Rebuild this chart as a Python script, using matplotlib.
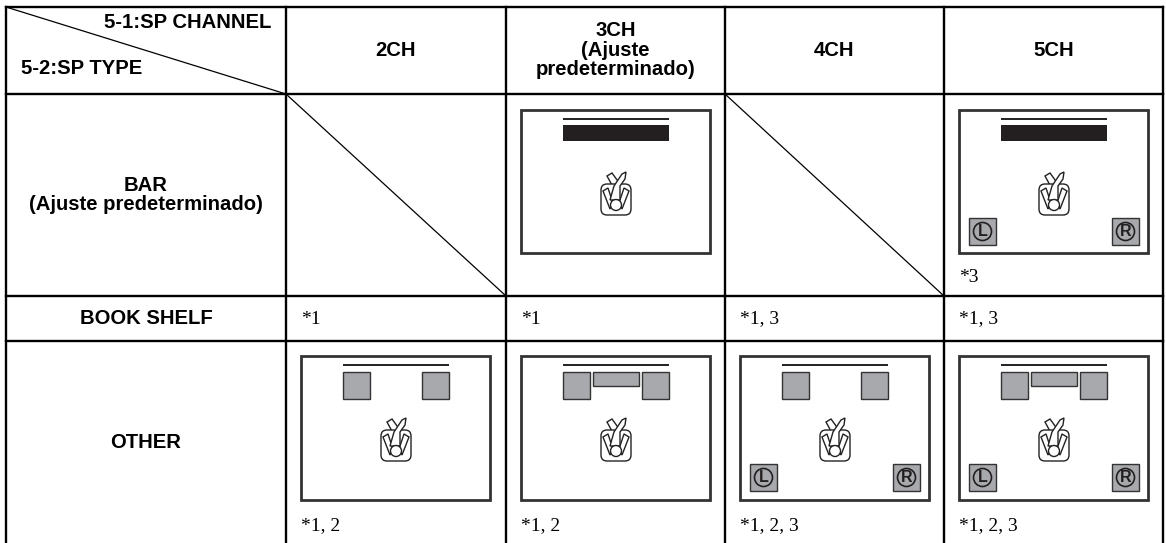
import matplotlib
matplotlib.use('Agg')
import matplotlib.pyplot as plt
from matplotlib.patches import Rectangle, Circle, FancyBboxPatch, Polygon

# table text
col_labels = ['2CH', '3CH\n(Ajuste\npredeterminado)', '4CH', '5CH']
row_labels = ['BAR\n(Ajuste predeterminado)', 'BOOK SHELF', 'OTHER']
corner_top = '5-1:SP CHANNEL'
corner_bottom = '5-2:SP TYPE'

# notes per cell, row by row
notes_bar = ['', '', '', '*3']
notes_shelf = ['*1', '*1', '*1, 3', '*1, 3']
notes_other = ['*1, 2', '*1, 2', '*1, 2, 3', '*1, 2, 3']

# which speakers each room drawing shows
bar_rooms = [None, 'bar', None, 'bar_rear']
other_rooms = ['front', 'front_center', 'front_rear', 'all']

# grid lines in pixels
col_x = [6, 286, 506, 725, 944, 1163]
row_y = [7, 94, 296, 341, 543]

LW = 1.7
DARK = '#231f20'
GREY = '#a7a9ac'

fig = plt.figure(figsize=(11.66, 5.43), dpi=100)
ax = fig.add_axes([0, 0, 1, 1])
ax.set_xlim(0, 1166)
ax.set_ylim(543, 0)
ax.axis('off')

plt.rcParams['font.family'] = ['Liberation Sans']


def speaker(x, y, w, h):
    ax.add_patch(Rectangle((x, y), w, h, fc=GREY, ec='#333333', lw=1.0))


def rear(x, y, letter):
    speaker(x, y, 27, 27)
    ax.add_patch(Circle((x + 13.5, y + 13.5), 9, fc='none', ec=DARK, lw=1.2))
    ax.text(x + 13.6, y + 13.8, letter, ha='center', va='center', fontsize=11.5,
            fontweight='bold', color=DARK)


def listener(cx, top):
    # little person in a chair, seen from above
    ec = '#222222'
    lw = 1.0
    ax.add_patch(Polygon([(cx - 9, top + 4), (cx - 4, top + 1), (cx + 4, top + 12),
                          (cx + 1, top + 20), (cx - 3, top + 15)],
                         fc='white', ec=ec, lw=lw, zorder=3))
    ax.add_patch(FancyBboxPatch((cx - 11, top + 16), 22, 23,
                                boxstyle='round,pad=4,rounding_size=6',
                                fc='white', ec=ec, lw=lw, zorder=3))
    ax.add_patch(Polygon([(cx - 13, top + 19), (cx - 8, top + 16), (cx - 3, top + 31),
                          (cx - 6, top + 37)], fc='white', ec=ec, lw=lw, zorder=4))
    ax.add_patch(Polygon([(cx + 13, top + 19), (cx + 8, top + 16), (cx + 3, top + 31),
                          (cx + 6, top + 37)], fc='white', ec=ec, lw=lw, zorder=4))
    ax.add_patch(Polygon([(cx - 6, top + 28), (cx - 2, top + 14), (cx + 6, top + 2),
                          (cx + 10, top), (cx + 9, top + 7), (cx + 4, top + 14),
                          (cx + 4, top + 28)], fc='white', ec=ec, lw=lw, zorder=5))
    ax.add_patch(Circle((cx, top + 33), 5.5, fc='white', ec=ec, lw=lw, zorder=6))


def room(left, top, bottom, kind):
    ax.add_patch(Rectangle((left, top), 189, bottom - top, fc='white', ec='#333333', lw=2.0))
    cx = left + 95
    ax.plot([cx - 53, cx + 53], [top + 9, top + 9], color=DARK, lw=1.4, solid_capstyle='butt')
    if kind.startswith('bar'):
        ax.add_patch(Rectangle((cx - 53, top + 15), 106, 16, fc=DARK, ec='none'))
    else:
        speaker(cx - 53, top + 16, 27, 27)
        speaker(cx + 26, top + 16, 27, 27)
    if kind in ('front_center', 'all'):
        speaker(cx - 23, top + 16, 46, 14)
    if kind in ('bar_rear', 'front_rear', 'all'):
        rear(left + 10, top + 108, 'L')
        rear(left + 153, top + 108, 'R')
    listener(cx, top + 62)


# grid
for x in col_x:
    ax.plot([x, x], [row_y[0], row_y[-1]], color='black', lw=LW, solid_capstyle='projecting')
for y in row_y[:-1]:
    ax.plot([col_x[0], col_x[-1]], [y, y], color='black', lw=LW, solid_capstyle='projecting')

# diagonals
ax.plot([col_x[0], col_x[1]], [row_y[0], row_y[1]], color='black', lw=0.9)
ax.plot([col_x[1], col_x[2]], [row_y[1], row_y[2]], color='black', lw=0.9)
ax.plot([col_x[3], col_x[4]], [row_y[1], row_y[2]], color='black', lw=0.9)

# header
bold = dict(fontsize=14.6, fontweight='bold', color='black', family='Liberation Sans')
ax.text(271, 22, corner_top, ha='right', va='center', **bold)
ax.text(21, 69, corner_bottom, ha='left', va='center', **bold)
for i, lab in enumerate(col_labels):
    ax.text((col_x[i + 1] + col_x[i + 2]) / 2, 50, lab, ha='center', va='center',
            linespacing=1.05, **bold)
for j, lab in enumerate(row_labels):
    ax.text((col_x[0] + col_x[1]) / 2, (row_y[j + 1] + row_y[j + 2]) / 2, lab,
            ha='center', va='center', linespacing=1.05, **bold)

# rooms
for i, kind in enumerate(bar_rooms):
    if kind:
        room(col_x[i + 1] + 15, 110, 253, kind)
for i, kind in enumerate(other_rooms):
    room(col_x[i + 1] + 15, 356, 500, kind)

# footnotes
serif = dict(fontsize=14, color='black', family='Liberation Serif', ha='left', va='center')
for i in range(4):
    x = col_x[i + 1] + 15
    if notes_bar[i]:
        ax.text(x, 278, notes_bar[i], **serif)
    ax.text(x, 319, notes_shelf[i], **serif)
    ax.text(x, 526, notes_other[i], **serif)

fig.savefig('out.png', dpi=100)
